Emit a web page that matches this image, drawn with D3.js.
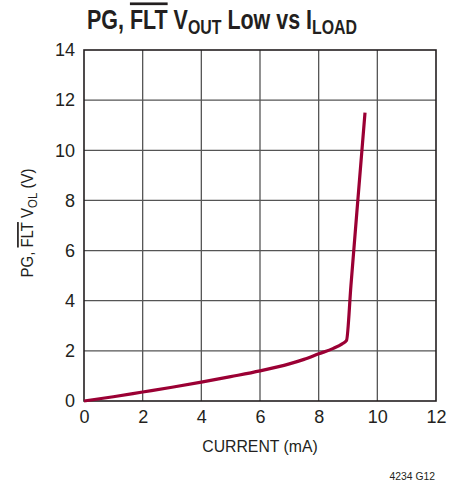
<!DOCTYPE html>
<html><head><meta charset="utf-8">
<script src="https://cdn.jsdelivr.net/npm/d3@7"></script>
<style>body{margin:0;background:#fff}svg text{font-family:"Liberation Sans",Arial,sans-serif;fill:#231f20}</style>
</head><body><svg id="c" width="461" height="485"></svg>
<script>
const currentMA = [0, 1, 2, 3, 4, 5, 6, 7, 7.5, 8, 8.5, 8.8, 8.95, 9.1, 9.3, 9.58];
const volOut    = [0, 0.17, 0.36, 0.55, 0.75, 0.97, 1.2, 1.48, 1.66, 1.88, 2.1, 2.28, 2.42, 4.6, 7.5, 11.5];
const xTicks = [0, 2, 4, 6, 8, 10, 12];
const yTicks = [0, 2, 4, 6, 8, 10, 12, 14];

const svg = d3.select('#c');
const L = 84, R = 436, T = 50, B = 401;
const x = d3.scaleLinear().domain([0, 12]).range([L, R]);
const y = d3.scaleLinear().domain([0, 14]).range([B, T]);

// grid
svg.append('g').selectAll('line.v').data(xTicks.slice(1, -1)).join('line')
  .attr('x1', d => x(d)).attr('x2', d => x(d)).attr('y1', T).attr('y2', B)
  .attr('stroke', '#555').attr('stroke-width', 1.3);
svg.append('g').selectAll('line.h').data(yTicks.slice(1, -1)).join('line')
  .attr('y1', d => y(d)).attr('y2', d => y(d)).attr('x1', L).attr('x2', R)
  .attr('stroke', '#555').attr('stroke-width', 1.3);
svg.append('rect').attr('x', L).attr('y', T).attr('width', R - L).attr('height', B - T)
  .attr('fill', 'none').attr('stroke', '#231f20').attr('stroke-width', 1.6);

// axes
const xa = svg.append('g').attr('transform', `translate(0,${B})`)
  .call(d3.axisBottom(x).tickValues(xTicks).tickSize(0).tickPadding(9));
xa.select('.domain').remove();
xa.selectAll('text').attr('font-size', 18).style('font-family', '"Liberation Sans",sans-serif').attr('fill', '#231f20');
const ya = svg.append('g').attr('transform', `translate(${L},0)`)
  .call(d3.axisLeft(y).tickValues(yTicks).tickSize(0).tickPadding(9));
ya.select('.domain').remove();
ya.selectAll('text').attr('font-size', 18).style('font-family', '"Liberation Sans",sans-serif').attr('fill', '#231f20');

// curve
const pts = currentMA.map((c, i) => [c, volOut[i]]);
svg.append('path').datum(pts)
  .attr('d', d3.line().x(d => x(d[0])).y(d => y(d[1])).curve(d3.curveMonotoneX))
  .attr('fill', 'none').attr('stroke', '#9b0034').attr('stroke-width', 3.2);

// title
const t = svg.append('text').attr('transform', 'translate(87,29) scale(0.795,1)').attr('font-size', 27).attr('font-weight', 'bold');
t.append('tspan').text('PG, ');
t.append('tspan').text('FLT').style('text-decoration', 'overline');
t.append('tspan').text(' V');
t.append('tspan').text('OUT').attr('font-size', 20).attr('dy', 5);
t.append('tspan').text(' Low vs I').attr('dy', -5);
t.append('tspan').text('LOAD').attr('font-size', 20).attr('dy', 5);

// y label
const yl = svg.append('text').attr('transform', 'translate(33,223) rotate(-90) scale(0.88,1)')
  .attr('text-anchor', 'middle').attr('font-size', 17);
yl.append('tspan').text('PG, ');
yl.append('tspan').text('FLT').style('text-decoration', 'overline');
yl.append('tspan').text(' V');
yl.append('tspan').text('OL').attr('font-size', 13).attr('dy', 4);
yl.append('tspan').text(' (V)').attr('dy', -4);

// x label
svg.append('text').attr('transform', `translate(${x(6)},452) scale(0.93,1)`).attr('text-anchor', 'middle')
  .attr('font-size', 17).text('CURRENT (mA)');

svg.append('text').attr('transform', 'translate(435,480) scale(0.9,1)').attr('text-anchor', 'end')
  .attr('font-size', 11.5).text('4234 G12');
</script></body></html>
